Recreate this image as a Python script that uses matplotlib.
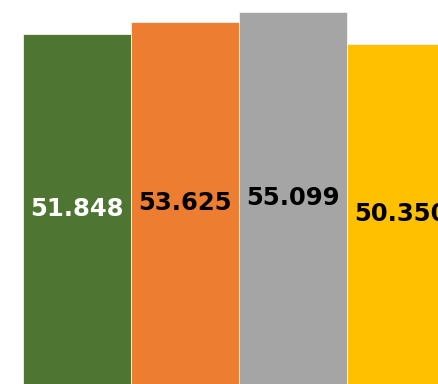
import matplotlib
matplotlib.use("Agg")
import matplotlib.pyplot as plt

# bar values and styling
categories = ["A", "B", "C", "D"]
values = [51.848, 53.625, 55.099, 50.350]
colors = ["#4E7632", "#ED7D31", "#A5A5A5", "#FFC000"]
label_colors = ["white", "black", "black", "black"]

fig = plt.figure(figsize=(4.38, 3.84), dpi=100)
ax = fig.add_axes([0, 0, 1, 1])

x = list(range(len(values)))
bars = ax.bar(x, values, width=1.0, color=colors, edgecolor="#f2f2f2", linewidth=0.6)

for xi, v, lc in zip(x, values, label_colors):
    ax.text(xi, v / 2, f"{v:.3f}", ha="center", va="center",
            color=lc, fontsize=17.5, fontweight="bold", family="DejaVu Sans")

ax.set_xlim(-0.713, 3.343)
ax.set_ylim(0, 56.9)
ax.axis("off")

fig.savefig("out.png", dpi=100)
